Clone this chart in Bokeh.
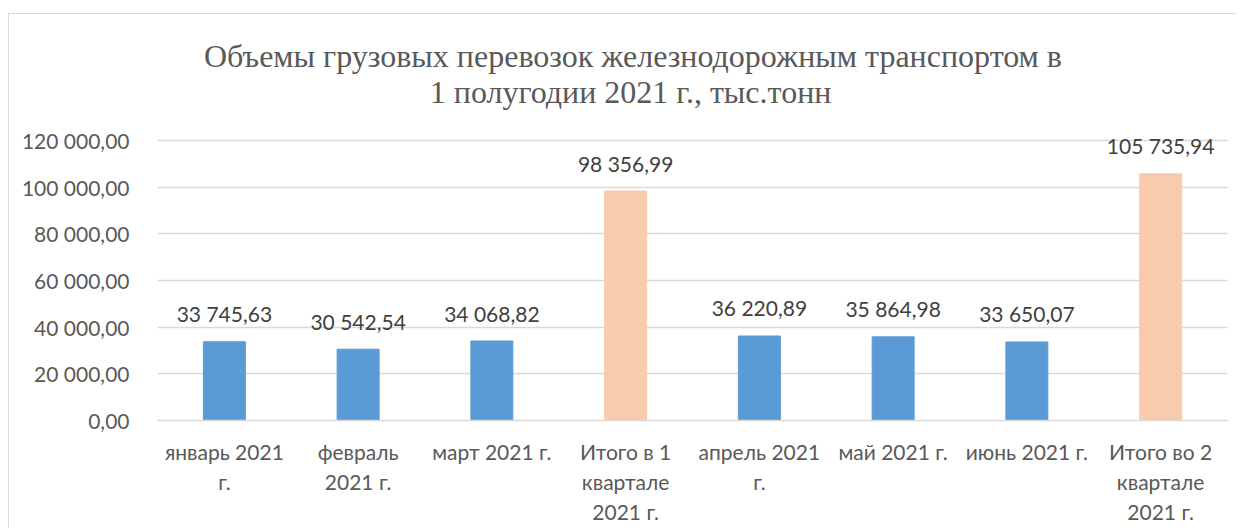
from bokeh.plotting import figure
from bokeh.models import ColumnDataSource, FixedTicker, Label
from bokeh.core.properties import value
from bokeh.embed import file_html
from bokeh.resources import INLINE

categories = ["январь 2021\nг.", "февраль\n2021 г.", "март 2021 г.", "Итого в 1\nквартале\n2021 г.",
              "апрель 2021\nг.", "май 2021 г.", "июнь 2021 г.", "Итого во 2\nквартале\n2021 г."]
values = [33745.63, 30542.54, 34068.82, 98356.99, 36220.89, 35864.98, 33650.07, 105735.94]
is_total = [False, False, False, True, False, False, False, True]
y_ticks = [0, 20000, 40000, 60000, 80000, 100000, 120000]
title_lines = ["Объемы грузовых перевозок железнодорожным транспортом в",
               "1 полугодии 2021 г., тыс.тонн"]


def fmt(v):
    s = f"{v:,.2f}"
    return s.replace(",", " ").replace(".", ",")


colors = ["#F8CBAD" if t else "#5B9BD5" for t in is_total]
labels = [fmt(v) for v in values]
source = ColumnDataSource(dict(cat=categories, val=values, color=colors, label=labels))

# frame extends above the top tick so the title can sit inside it;
# the top tick (120 000) stays 280 px above the baseline
frame_h = 396
y_top = y_ticks[-1] * frame_h / 280

p = figure(x_range=categories, y_range=(0, y_top), width=1228, height=515,
           output_backend="svg", toolbar_location=None,
           min_border_left=148, min_border_right=10, min_border_top=10, min_border_bottom=109)
p.margin = (13, 0, 0, 8)
p.styles = {"border-left": "1px solid #D9D9D9", "border-top": "1px solid #D9D9D9"}

p.title.visible = False
px = y_ticks[-1] / 280  # data units per pixel
for txt, cx, cy in zip(title_lines, (3.555, 3.537), (365 * px, 329 * px)):
    p.add_layout(Label(x=cx, y=cy, text=txt,
                       text_align="center", text_baseline="alphabetic",
                       text_font="Liberation Serif", text_font_size="32px",
                       text_color="#595959"))

p.vbar(x="cat", top="val", width=0.314, color="color", source=source)
p.text(x="cat", y="val", text="label", source=source, text_align="center",
       text_baseline="alphabetic", y_offset=-28, text_font_size="21px",
       text_color="#404040", text_font=value("Lato"))

p.outline_line_color = None
p.background_fill_color = "white"
p.border_fill_color = "white"
p.xgrid.grid_line_color = None
p.ygrid.grid_line_color = "#D9D9D9"
p.ygrid.grid_line_width = 1.3
p.yaxis.ticker = FixedTicker(ticks=y_ticks)
p.yaxis.major_label_overrides = {t: fmt(t) for t in y_ticks}
p.yaxis.axis_line_color = None
p.yaxis.major_tick_line_color = None
p.yaxis.minor_tick_line_color = None
p.yaxis.major_label_standoff = 22
p.xaxis.axis_line_color = "#D9D9D9"
p.xaxis.axis_line_width = 1.5
p.xaxis.major_tick_line_color = None
p.xaxis.major_label_standoff = 12
p.xaxis.major_label_text_line_height = 1.2
for ax in (p.xaxis, p.yaxis):
    ax.major_label_text_font = "Lato"
    ax.major_label_text_font_size = "21px"
    ax.major_label_text_color = "#595959"

open("out.html", "w").write(file_html(p, INLINE))
